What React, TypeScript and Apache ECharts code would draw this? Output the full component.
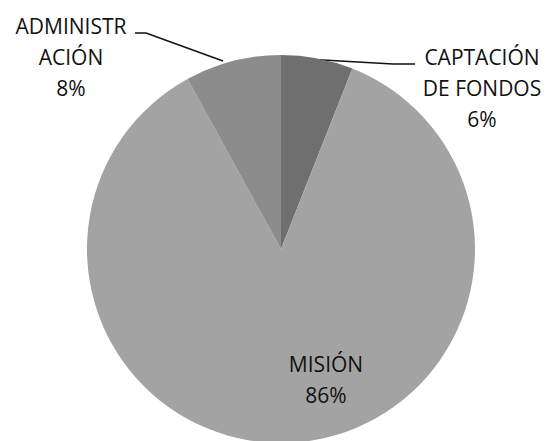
import React, { useEffect, useRef } from "react";
import * as echarts from "echarts";

const categories = ["CAPTACIÓN\nDE FONDOS", "MISIÓN", "ADMINISTR\nACIÓN"];
const values = [6, 86, 8];
const colors = ["#6f6f6f", "#a3a3a3", "#8c8c8c"];

export default function App() {
  const ref = useRef<HTMLDivElement>(null);
  useEffect(() => {
    if (!ref.current) return;
    const chart = echarts.init(ref.current, null, { renderer: "svg" });
    const labelPos = [
      { x: 482, y: 88, line: [[305, 59], [393, 64], [415, 64]] },
      { x: 326, y: 379, line: null },
      { x: 71, y: 57, line: [[223, 61], [146, 33], [135, 33]] },
    ];
    chart.setOption({
      animation: false,
      backgroundColor: "#ffffff",
      series: [
        {
          type: "pie",
          center: [281, 249],
          radius: 194,
          startAngle: 90,
          clockwise: true,
          data: categories.map((name, i) => ({
            name,
            value: values[i],
            itemStyle: { color: colors[i] },
            label: { position: i === 1 ? "inside" : "outside" },
            labelLine: { show: i !== 1 },
          })),
          label: {
            show: true,
            formatter: (p: any) => `${p.name}\n${p.value}%`,
            fontFamily: "Open Sans",
            fontSize: 21,
            lineHeight: 31,
            color: "#111111",
            align: "center",
          },
          labelLine: {
            show: true,
            lineStyle: { color: "#111111", width: 1.5 },
          },
          labelLayout: (params: any) => {
            const p = labelPos[params.dataIndex];
            const r: any = { x: p.x, y: p.y, align: "center", verticalAlign: "middle" };
            if (p.line) r.labelLinePoints = p.line;
            return r;
          },
          emphasis: { disabled: true },
        },
      ],
    });
    return () => chart.dispose();
  }, []);
  return (
    <div
      ref={ref}
      style={{ position: "fixed", left: 0, top: 0, width: 546, height: 441 }}
    />
  );
}
